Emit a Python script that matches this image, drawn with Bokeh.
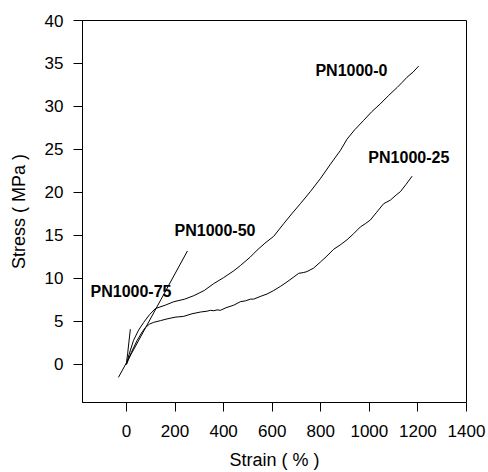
from bokeh.plotting import figure
from bokeh.models import Range1d, FixedTicker, Label
from bokeh.embed import file_html
from bokeh.resources import INLINE

# ---- data ----
pn0_strain = [0, 10, 29, 50, 71, 95, 119, 160, 195, 240, 277, 320, 359, 400, 442, 469, 510, 538,
              570, 606, 648, 680, 716, 757, 798, 840, 881, 908, 940, 977, 1010, 1045, 1080, 1114,
              1135, 1155, 1180, 1203]
pn0_stress = [0, 1.1, 2.8, 4.0, 4.9, 5.8, 6.5, 6.9, 7.3, 7.6, 8.0, 8.6, 9.4, 10.1, 10.9, 11.5, 12.5,
              13.3, 14.1, 14.9, 16.4, 17.5, 18.7, 20.1, 21.6, 23.3, 24.9, 26.2, 27.3, 28.4, 29.4,
              30.3, 31.3, 32.2, 32.8, 33.4, 34.0, 34.7]

pn25_strain = [0, 20, 44, 65, 78, 95, 112, 140, 167, 200, 236, 270, 305, 332, 346, 360, 373, 387,
               410, 442, 469, 490, 510, 524, 550, 579, 606, 635, 661, 690, 709, 730, 743, 770, 798,
               825, 853, 880, 908, 935, 963, 985, 1004, 1030, 1059, 1086, 1110, 1128, 1150, 1176]
pn25_stress = [0, 1.4, 2.8, 3.8, 4.3, 4.7, 4.9, 5.1, 5.3, 5.5, 5.6, 5.9, 6.1, 6.2, 6.3, 6.25, 6.35,
               6.3, 6.6, 6.9, 7.3, 7.4, 7.6, 7.6, 7.9, 8.2, 8.6, 9.1, 9.6, 10.2, 10.6, 10.7, 10.8,
               11.2, 11.9, 12.6, 13.4, 13.9, 14.5, 15.2, 16.0, 16.4, 16.8, 17.7, 18.7, 19.1, 19.7,
               20.1, 20.9, 21.9]

pn50_strain = [-33, 0, 251]
pn50_stress = [-1.5, 0.2, 13.2]

pn75_strain = [0, 5, 10, 16]
pn75_stress = [0.2, 1.3, 2.6, 4.1]

series_names = ["PN1000-0", "PN1000-25", "PN1000-50", "PN1000-75"]
x_ticks = [0, 200, 400, 600, 800, 1000, 1200, 1400]
y_ticks = [0, 5, 10, 15, 20, 25, 30, 35, 40]

# label anchor positions (data coords, left/middle)
label_x = [778, 996, 198, -148]
label_y = [34.2, 24.1, 15.6, 8.5]

FONT = "Liberation Sans"

p = figure(width=488, height=472, output_backend="svg", toolbar_location=None,
           x_range=Range1d(-181, 1400), y_range=Range1d(-4.42, 40))
p.min_border_left = 82
p.min_border_right = 22
p.min_border_top = 20
p.min_border_bottom = 70
p.background_fill_color = "white"
p.border_fill_color = "white"
p.outline_line_color = "black"
p.outline_line_width = 1
p.grid.visible = False

for ax in (p.xaxis[0], p.yaxis[0]):
    ax.axis_line_color = "black"
    ax.major_tick_line_color = "black"
    ax.major_tick_out = 9
    ax.major_tick_in = 0
    ax.minor_tick_line_color = None
    ax.major_label_text_font = FONT
    ax.major_label_text_font_size = "17px"
    ax.major_label_text_color = "black"
    ax.axis_label_text_font = FONT
    ax.axis_label_text_font_size = "18px"
    ax.axis_label_text_font_style = "normal"
    ax.axis_label_text_color = "black"

p.xaxis.ticker = FixedTicker(ticks=x_ticks)
p.yaxis.ticker = FixedTicker(ticks=y_ticks)
p.xaxis.axis_label = "Strain ( % )"
p.yaxis.axis_label = "Stress ( MPa )"
p.xaxis.major_label_standoff = 13
p.yaxis.major_label_standoff = 10
p.xaxis.axis_label_standoff = 10
p.yaxis.axis_label_standoff = 13

for xs, ys in [(pn0_strain, pn0_stress), (pn25_strain, pn25_stress),
               (pn50_strain, pn50_stress), (pn75_strain, pn75_stress)]:
    p.line(xs, ys, line_color="black", line_width=1)

for name, lx, ly in zip(series_names, label_x, label_y):
    p.add_layout(Label(x=lx, y=ly, text=name, text_font=FONT, text_font_size="16px",
                       text_font_style="bold", text_color="black", text_baseline="middle",
                       text_align="left"))

open("out.html", "w").write(file_html(p, INLINE))
